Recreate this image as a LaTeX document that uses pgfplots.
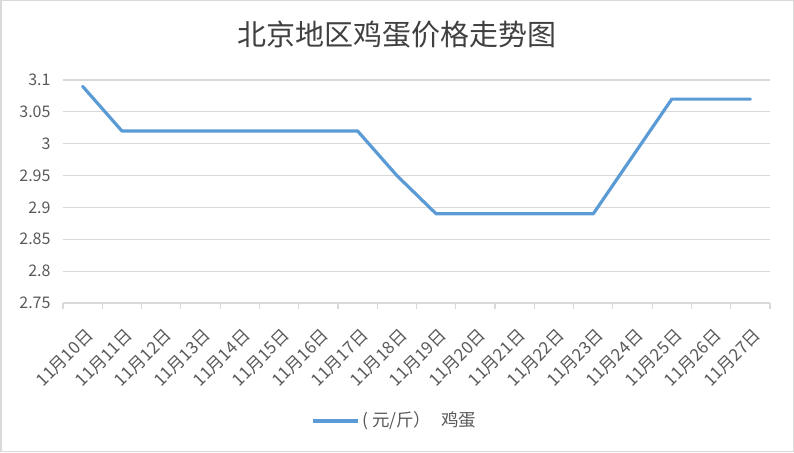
\documentclass[border=0pt]{standalone}
\usepackage{pgfplots}
\pgfplotsset{compat=1.18}
\usepackage{fontspec}
\setmainfont{Noto Sans CJK SC}
\definecolor{linec}{HTML}{5B9BD5}
\definecolor{gridc}{HTML}{D9D9D9}
\definecolor{txt}{HTML}{595959}
\newcommand{\tickfont}{\fontsize{17}{19}\selectfont}
\newcommand{\ytickfont}{\fontsize{16}{18}\selectfont}
\begin{document}
\begin{tikzpicture}[x=1pt,y=1pt]
\path[use as bounding box] (0,0) rectangle (794,452);
\draw[gridc, line width=1.5pt] (0.75,0.75) rectangle (793.25,451.25);
\node[text=black!75, font=\fontsize{29}{32}\selectfont] at (397,417) {北京地区鸡蛋价格走势图};
\begin{axis}[
  at={(63pt,149pt)}, anchor=south west,
  scale only axis, width=707pt, height=223pt,
  xmin=-0.5, xmax=17.5, ymin=2.75, ymax=3.1,
  axis x line*=bottom, axis y line*=left,
  x axis line style={gridc, line width=1.5pt, -},
  y axis line style={draw=none},
  xtick={0,...,17},
  xticklabels={11月10日,11月11日,11月12日,11月13日,11月14日,11月15日,11月16日,11月17日,11月18日,11月19日,11月20日,11月21日,11月22日,11月23日,11月24日,11月25日,11月26日,11月27日},
  minor xtick={-0.5,0.5,...,17.5},
  major tick length=0pt,
  minor tick length=6pt,
  tick align=outside,
  minor tick style={gridc, line width=1.2pt},
  tick label style={text=txt},
  xticklabel style={font=\tickfont, rotate=45, anchor=north east, inner sep=1pt, xshift=-14.5pt, yshift=-17.4pt},
  ytick={2.75,2.8,2.85,2.9,2.95,3,3.05,3.1},
  yticklabels={2.75,2.8,2.85,2.9,2.95,3,3.05,3.1},
  ymajorgrids, grid style={gridc, line width=1.2pt},
  yticklabel style={font=\ytickfont, xshift=-9pt},
  /pgf/number format/assume math mode=true,
  clip=false,
]
\addplot[linec, line width=3.2pt, line join=round, line cap=round] coordinates {
(0,3.09) (1,3.02) (2,3.02) (3,3.02) (4,3.02) (5,3.02) (6,3.02) (7,3.02)
(8,2.95) (9,2.89) (10,2.89) (11,2.89) (12,2.89) (13,2.89) (14,2.98)
(15,3.07) (16,3.07) (17,3.07)};
\end{axis}
\draw[linec, line width=3.2pt] (313,31) -- (358,31);
\node[anchor=west, text=txt, font=\fontsize{17.5}{19}\selectfont, inner sep=0pt] at (362,31) {( 元/斤）\hspace{10pt}鸡蛋};
\end{tikzpicture}
\end{document}
